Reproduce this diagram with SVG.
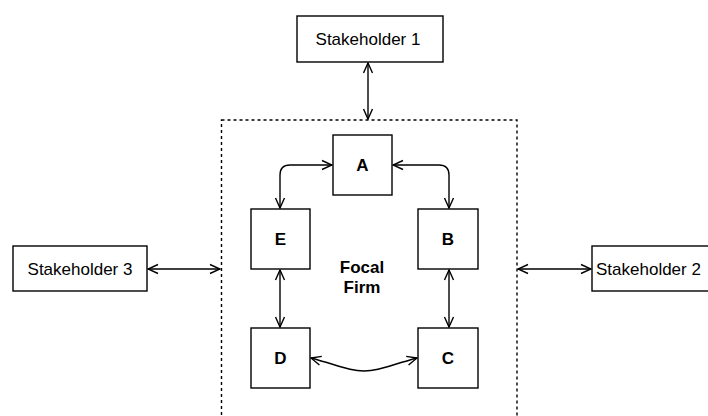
<svg xmlns="http://www.w3.org/2000/svg" width="708" height="416" viewBox="0 0 708 416">
  <style>
    .box { fill: #ffffff; stroke: #000000; stroke-width: 1.4; }
    .frame { fill: none; stroke: #000000; stroke-width: 1.4; stroke-dasharray: 3 3; }
    .lbl { font-family: "Liberation Sans", Arial, sans-serif; font-size: 17px; fill: #000000; text-anchor: middle; }
    .bold { font-weight: bold; }
    .edge { fill: none; stroke: #000000; stroke-width: 1.4; marker-start: url(#open); marker-end: url(#open); }
  </style>
  <defs>
    <marker id="open" viewBox="0 0 12 12" refX="11" refY="6" markerWidth="12" markerHeight="12" markerUnits="userSpaceOnUse" orient="auto-start-reverse">
      <path d="M1,1.5 L11,6 L1,10.5" fill="none" stroke="#000000" stroke-width="1.4"/>
    </marker>
  </defs>
  <rect width="708" height="416" fill="#ffffff"/>

  <!-- focal firm boundary -->
  <g id="focal-firm">
    <rect class="frame" x="221.5" y="120" width="295.5" height="320"/>
    <text class="lbl bold" x="362" y="273">Focal</text>
    <text class="lbl bold" x="362" y="293">Firm</text>
  </g>

  <g id="connectors">
    <line class="edge" x1="368" y1="63" x2="368" y2="119"/>
    <line class="edge" x1="148" y1="269" x2="220" y2="269"/>
    <line class="edge" x1="518" y1="269" x2="591" y2="269"/>
    <path class="edge" d="M332,165 L290,165 Q280,165 280,175 L280,208"/>
    <path class="edge" d="M393,165 L439,165 Q449,165 449,175 L449,208"/>
    <line class="edge" x1="280" y1="270" x2="280" y2="327"/>
    <line class="edge" x1="449" y1="270" x2="449" y2="327"/>
    <path class="edge" d="M311,358 C340,366 350,371 364,371 C378,371 388,366 417,358"/>
  </g>

  <g id="stakeholder-1">
    <rect class="box" x="297" y="16" width="146" height="46"/>
    <text class="lbl" x="368" y="45">Stakeholder 1</text>
  </g>
  <g id="stakeholder-2">
    <rect class="box" x="592" y="246" width="130" height="45"/>
    <text class="lbl" x="596" y="275" style="text-anchor:start">Stakeholder 2</text>
  </g>
  <g id="stakeholder-3">
    <rect class="box" x="13" y="246" width="134" height="45"/>
    <text class="lbl" x="80" y="275">Stakeholder 3</text>
  </g>

  <g id="node-a">
    <rect class="box" x="333" y="135" width="59" height="60"/>
    <text class="lbl bold" x="362.5" y="171">A</text>
  </g>
  <g id="node-b">
    <rect class="box" x="418" y="209" width="60" height="60"/>
    <text class="lbl bold" x="448" y="245">B</text>
  </g>
  <g id="node-c">
    <rect class="box" x="418" y="328" width="60" height="60"/>
    <text class="lbl bold" x="448" y="364">C</text>
  </g>
  <g id="node-d">
    <rect class="box" x="251" y="328" width="59" height="60"/>
    <text class="lbl bold" x="280.5" y="364">D</text>
  </g>
  <g id="node-e">
    <rect class="box" x="251" y="209" width="59" height="60"/>
    <text class="lbl bold" x="280.5" y="245">E</text>
  </g>
</svg>
